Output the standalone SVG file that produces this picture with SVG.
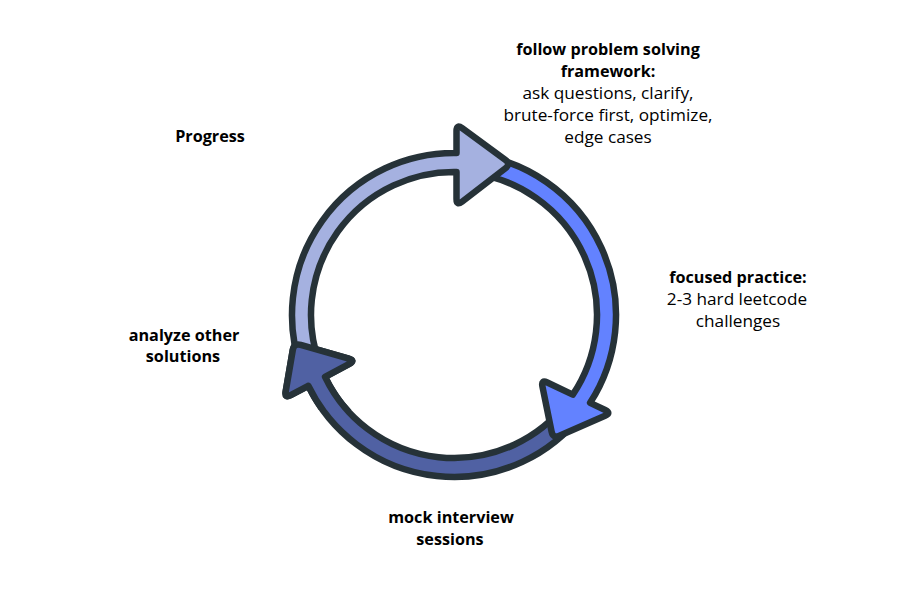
<svg xmlns="http://www.w3.org/2000/svg" xmlns:xlink="http://www.w3.org/1999/xlink" width="900" height="600" viewBox="0 0 900 600">
<style>
.arrow{stroke:#263238;stroke-width:6.5;stroke-linejoin:round}
.t{font-family:"Open Sans","Liberation Sans",sans-serif;font-size:17.2px;fill:#000;text-anchor:middle}
.b{font-weight:bold;font-size:16.2px}
</style>
<defs>
<clipPath id="clipDarkHead"><rect x="265" y="325" width="100" height="85"/></clipPath>
</defs>
<rect width="900" height="600" fill="#ffffff"/>
<g id="connectors">
<path id="arrow-dark" class="arrow" fill="#5061A3" d="M581.66,414.74 A162,162 0 0 1 308.28,385.77 L290.67,395.2 Q284.5,398.5 285.68,391.6 L292.82,349.9 Q294,343 300.73,344.92 L348.77,358.58 Q355.5,360.5 349.33,363.8 L325.04,376.8 A143,143 0 0 0 566.69,403.04 Z"/>
<path id="arrow-bright" class="arrow" fill="#6382FF" d="M476.55,154.58 A162,162 0 0 1 590.12,402.84 L605.18,410 Q611.5,413 605.08,415.8 L559.42,435.7 Q553,438.5 551.6,431.64 L542.4,386.36 Q541,379.5 547.32,382.5 L572.79,394.61 A143,143 0 0 0 473.9,173.4 Z"/>
<path id="arrow-light" class="arrow" fill="#A5B1E0" d="M301.77,370.41 A162,162 0 0 1 456.5,153.02 L456.5,131 Q456.5,124 462.14,128.14 L505.36,159.86 Q511,164 505.46,168.27 L462.04,201.73 Q456.5,206 456.5,199 L456.5,172.02 A143,143 0 0 0 319.62,363.91 Z"/>
<use xlink:href="#arrow-dark" href="#arrow-dark" clip-path="url(#clipDarkHead)"/>
</g>
<g id="node-framework">
<text class="t b" x="608" y="55">follow problem solving</text>
<text class="t b" x="608" y="77">framework:</text>
<text class="t" x="608" y="99">ask questions, clarify,</text>
<text class="t" x="608" y="121">brute-force first, optimize,</text>
<text class="t" x="608" y="143">edge cases</text>
</g>
<g id="node-practice">
<text class="t b" x="738" y="283">focused practice:</text>
<text class="t" x="737" y="305">2-3 hard leetcode</text>
<text class="t" x="738" y="327">challenges</text>
</g>
<g id="node-progress">
<text class="t b" x="210" y="142">Progress</text>
</g>
<g id="node-analyze">
<text class="t b" x="184" y="341">analyze other</text>
<text class="t b" x="183" y="362">solutions</text>
</g>
<g id="node-mock">
<text class="t b" x="451" y="523">mock interview</text>
<text class="t b" x="450" y="545">sessions</text>
</g>
</svg>
